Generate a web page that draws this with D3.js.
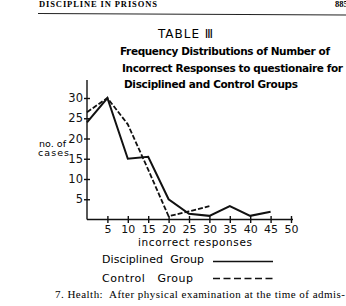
<!DOCTYPE html>
<html>
<head>
<meta charset="utf-8">
<script src="https://cdn.jsdelivr.net/npm/d3@7"></script>
<style>
  body { margin: 0; background: #fff; }
  svg { display: block; }
  .tick text { font-family: "DejaVu Sans", sans-serif; font-size: 11px; fill: #111; }
  .tick line, .domain { stroke: #111; stroke-width: 1.4px; }
</style>
</head>
<body>
<svg class="chart"></svg>
<script>
// responses (x) and number of cases (y)
const xTicks = [5, 10, 15, 20, 25, 30, 35, 40, 45, 50];
const yTicks = [5, 10, 15, 20, 25, 30];

const disciplinedX = [0, 5, 10, 15, 20, 25, 30, 35, 40, 45];
const disciplinedY = [24, 30, 15, 15.5, 5, 1.4, 0.9, 3.3, 0.9, 1.9];

const controlX = [0, 5, 10, 15, 20, 25, 30];
const controlY = [26.5, 30, 23.5, 12.3, 0.8, 2, 3.3];

const titleLines = [
  "Frequency Distributions of Number of",
  "Incorrect Responses to questionaire for",
  "Disciplined and Control Groups"
];

const W = 346, H = 306;
const svg = d3.select(".chart").attr("width", W).attr("height", H);

// page header
svg.append("text")
    .attr("x", 39).attr("y", 6.5)
    .attr("textLength", 118)
    .style("font-family", "'Liberation Serif', serif")
    .style("font-size", "8.5px")
    .style("font-weight", "bold")
    .text("DISCIPLINE IN PRISONS");
svg.append("text")
    .attr("x", 335).attr("y", 6.5)
    .style("font-family", "'Liberation Serif', serif")
    .style("font-size", "8.5px")
    .style("font-weight", "bold")
    .text("885");
svg.append("line")
    .attr("x1", 38).attr("y1", 13.5).attr("x2", W).attr("y2", 15)
    .style("stroke", "#222").style("stroke-width", 1.2);

// titles
svg.append("text")
    .attr("x", 158).attr("y", 38)
    .attr("textLength", 55)
    .style("font-family", "'DejaVu Sans', sans-serif")
    .style("font-size", "12px")
    .text("TABLE Ⅲ");

const titleX = [120, 122, 124];
const titleY = [55, 72, 88];
const titleW = [210, 221, 174];
svg.selectAll(".title")
    .data(titleLines)
  .enter().append("text")
    .attr("class", "title")
    .attr("x", (d, i) => titleX[i])
    .attr("y", (d, i) => titleY[i])
    .attr("textLength", (d, i) => titleW[i])
    .style("font-family", "'DejaVu Sans', sans-serif")
    .style("font-size", "10.5px")
    .style("font-weight", "bold")
    .text(d => d);

// scales
const x = d3.scaleLinear().domain([0, 50]).range([87, 291]);
const y = d3.scaleLinear().domain([0, 30]).range([219.5, 98]);

// x axis
const gx = svg.append("g")
    .attr("transform", "translate(0," + y(0) + ")")
    .call(d3.axisBottom(x).tickValues(xTicks).tickSize(3.5).tickPadding(2.5));
gx.select(".domain").attr("d", "M" + x(0) + ",0H" + (x(50) + 2));
gx.selectAll(".tick line").attr("y1", -3.5);

// y axis
const gy = svg.append("g")
    .attr("transform", "translate(" + x(0) + ",0)")
    .call(d3.axisLeft(y).tickValues(yTicks).tickSize(3).tickPadding(1));
gy.select(".domain").attr("d", "M0," + y(0) + "V80");
gy.selectAll(".tick line").attr("x1", 3);
gy.selectAll(".tick text").style("font-size", "11.5px");

// axis titles
svg.append("text")
    .attr("x", 195).attr("y", 246)
    .attr("text-anchor", "middle")
    .attr("textLength", 114)
    .style("font-family", "'DejaVu Sans', sans-serif")
    .style("font-size", "10.5px")
    .text("incorrect responses");

const yLabel = svg.append("text")
    .style("font-family", "'DejaVu Sans', sans-serif")
    .style("font-size", "9.5px");
yLabel.append("tspan").attr("x", 39).attr("y", 146.5).attr("textLength", 27).text("no. of");
yLabel.append("tspan").attr("x", 38).attr("y", 155.5).attr("textLength", 31).text("cases");

// lines
const line = d3.line()
    .x(d => x(d[0]))
    .y(d => y(d[1]));

svg.append("path")
    .datum(d3.zip(disciplinedX, disciplinedY))
    .attr("d", line)
    .style("fill", "none")
    .style("stroke", "#111")
    .style("stroke-width", 2)
    .style("stroke-linejoin", "miter");

svg.append("path")
    .datum(d3.zip(controlX, controlY))
    .attr("d", line)
    .style("fill", "none")
    .style("stroke", "#111")
    .style("stroke-width", 1.8)
    .style("stroke-dasharray", "5,2");

// legend
const legendNames = ["Disciplined  Group", "Control   Group"];
const legend = svg.selectAll(".legend")
    .data(legendNames)
  .enter().append("g")
    .attr("class", "legend")
    .attr("transform", (d, i) => "translate(0," + (263 + i * 18.5) + ")");

legend.append("text")
    .attr("x", 102)
    .attr("textLength", (d, i) => i ? 91 : 102)
    .style("font-family", "'DejaVu Sans', sans-serif")
    .style("font-size", "11px")
    .style("white-space", "pre")
    .text(d => d);

legend.append("line")
    .attr("x1", 213).attr("x2", 273)
    .attr("y1", (d, i) => i ? -3 : -1.5)
    .attr("y2", (d, i) => i ? -3 : -1.5)
    .style("stroke", "#111")
    .style("stroke-width", 1.5)
    .style("stroke-dasharray", (d, i) => i ? "7,3.5" : null);

// body text below the figure
svg.append("text")
    .attr("x", 55).attr("y", 298)
    .attr("textLength", 290)
    .style("font-family", "'Liberation Serif', serif")
    .style("font-size", "11px")
    .style("white-space", "pre")
    .text("7. Health:  After physical examination at the time of admis-");
</script>
</body>
</html>
